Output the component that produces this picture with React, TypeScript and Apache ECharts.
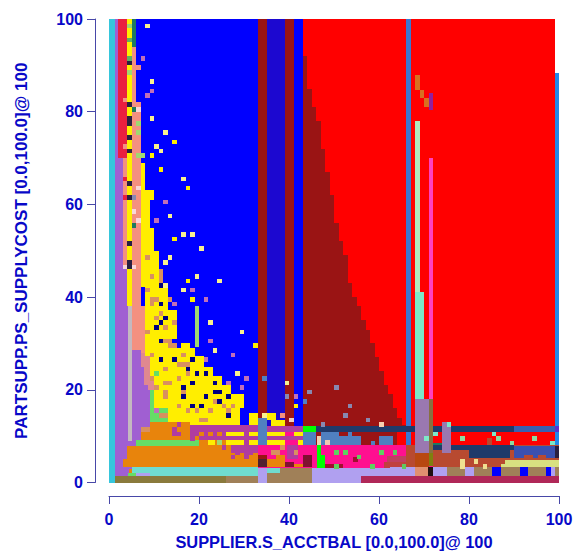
import React, { useEffect, useRef } from "react";
import * as echarts from "echarts";

const xTicks = [0, 20, 40, 60, 80, 100];
const yTicks = [0, 20, 40, 60, 80, 100];
const xTitle = "SUPPLIER.S_ACCTBAL [0.0,100.0]@ 100";
const yTitle = "PARTSUPP.PS_SUPPLYCOST [0.0,100.0]@ 100";

const cyan = "#36c6dc", purple = "#a05fd2", crimson = "#ea1f3f", yellow = "#ffee00", salmon = "#f49080";
const blue = "#0000ff", indigo = "#1c08d0", maroon = "#9a1414", red = "#ff0000", steel = "#3a78d0";
const gray = "#c4b8c0", dkgreen = "#1e7a60", tan = "#d89060", plum = "#c070b8", pale = "#f8f090", navy = "#1f3a6a";
const orange = "#e8840c", green = "#66dd66", aqua = "#70dcd0", olive = "#8a7a3c", brown = "#a08058";
const magenta = "#b03ca0", hotpink = "#ff1090", lime = "#00ff00", corn = "#5080c0", lav = "#b0a0f0";
const rose = "#b02858", brick = "#b84a30", khaki = "#d8e080", grape = "#9a78b0", moss = "#887040";
const dark = "#2a2040", dblue = "#000080", sky = "#2288e8", mint = "#b0e8c0", tq = "#7de8c8", pink = "#ff40c0";
const wine = "#a01030", grey = "#8888b0", lgreen = "#a0d870", band2 = "#3a60b0", ocean = "#3a50b0", oran2 = "#b84810";
const pinktan = "#e08890";

// [col0, col1, row0, row1, colour]
const baseBlocks: any[] = [
  [1.25, 43, 0, 12, orange], [43, 72, 0, 12, hotpink], [72, 100, 0, 8, brick],
  [6, 33, 12, 100, blue], [33, 35, 12, 100, maroon], [35, 39, 12, 100, indigo], [39, 41, 12, 100, maroon],
  [41, 43.2, 12, 100, blue], [43.2, 99, 8, 100, red],
  [43.2, 64, 8, 12, maroon], [99, 100, 8, 88.3, sky],
  [0, 1.25, 0, 100, cyan], [1.25, 2, 70, 100, purple], [2, 4, 70, 100, crimson],
  [1.25, 3, 0, 70, purple], [3, 4, 47, 70, salmon], [3, 4.2, 5, 47, purple],
  [4, 5, 47, 100, yellow], [4, 5.1, 38, 47, yellow], [4.2, 5.1, 7.6, 38, gray],
  [5, 6, 94, 100, dkgreen], [5, 6, 82, 94, salmon], [5, 7, 50, 82, salmon], [5.1, 7.2, 28.6, 50, salmon], [7.2, 8, 28, 38, salmon],
  [5.1, 7, 27, 28.6, purple], [5.1, 7.8, 22, 27, purple], [5.1, 8.7, 9, 22, purple], [4, 8.7, 7.6, 9, purple], [1.25, 5, 3, 7.6, purple],
  [7, 9, 25, 28, pinktan], [7.8, 10, 21, 25, pinktan], [8.7, 10, 20, 21, pinktan], [8.7, 9, 9, 20, purple],
];

// top row of the dark-red wedge, by column from 43 to 65
const wedgeCols = [43, 44, 45, 46, 47, 48, 49, 50, 51, 52, 53, 54, 55, 56, 57, 58, 59, 60, 61, 62, 63, 64, 65];
const wedgeTops = [92, 85, 81, 78, 72, 67, 62, 56, 52, 49, 43, 40, 38, 35, 33, 30, 27, 24, 21, 19, 16, 14, 12.5];

const stripBlocks: any[] = [
  [66, 67, 8, 100, steel],
  [68, 69, 84.7, 88, "#d87020"], [69, 70, 83, 84.7, "#d87020"], [70, 71, 81, 83, "#d87020"], [71, 72, 80.3, 84, "#9020a0"],
  [68, 69, 41, 78, mint], [68, 70, 18, 41, tq], [71, 72, 18, 70, pink],
];

const stackBlocks: any[] = [
  [7, 8, 63, 69, yellow], [7, 10, 61, 63, yellow], [7, 9, 55, 61, yellow], [7, 10, 50, 55, yellow],
  [7.2, 11, 46, 50, yellow], [7.2, 12, 42.2, 46, yellow], [11, 12, 43, 46, tan], [8, 13, 37.2, 42.2, yellow], [8, 15, 31, 37.2, yellow],
  [8, 13, 29, 31, yellow], [13, 15, 29, 30, tan], [16, 18, 29, 30, yellow], [8, 19, 27.2, 29, yellow], [9, 21, 25, 27.2, yellow],
  [9, 23, 23, 25, yellow], [10, 25, 21, 23, yellow], [10, 27, 19, 21, yellow], [10, 30, 16, 19, yellow], [13, 29, 12.4, 16, yellow],
  [9, 10, 13, 20, green], [10, 13, 13, 16, green],
  [19, 20, 29.3, 38, lgreen],
  [31, 33, 12.2, 15, yellow], [33, 35, 12.2, 14, corn], [34, 35, 14, 15, pale], [35, 37, 13.5, 15, yellow], [36, 39, 12.2, 13.5, yellow],
];

const lowBlocks: any[] = [
  [3, 33, 3.3, 5, orange], [4, 33, 5, 7.9, orange], [6, 20, 7.9, 9.2, green], [7.2, 19, 9.2, 11, orange], [9, 18, 11, 13, orange], [7.2, 9, 11, 12, tan],
  [18, 33, 10, 12.4, magenta], [20, 27, 8, 10, magenta], [26, 33, 10, 11, yellow], [26, 33, 8, 9.2, yellow], [20, 26, 7.9, 9.2, orange], [22, 23.5, 8, 9.2, yellow], [24, 25, 8, 9.2, lgreen],
  [5, 33, 2, 3.3, aqua], [1.25, 26, 0, 1.4, olive], [26, 33, 0, 1.4, brown], [1.25, 4.5, 1.4, 3, purple], [4.2, 6, 1.4, 2, green], [6, 9, 1.4, 2, lav], [9, 33, 1.4, 2, aqua],
  [33, 35, 0, 3.3, lav], [35, 45, 0, 2, brown], [35, 38, 2, 3.2, aqua], [38, 45, 2, 3.2, brown], [45, 56.1, 0, 3.2, lav], [56.1, 66, 1.4, 3.2, lav], [56.1, 100, 0, 1.4, rose],

  [27, 43, 11, 12.2, magenta], [27, 43, 9.2, 10, magenta], [27, 43, 6.3, 8, magenta],
  [27, 30, 10, 11, yellow], [30, 31, 10, 11, magenta], [31, 33, 10, 11, yellow], [35, 39, 10, 11, yellow], [41, 43, 10, 11, yellow], [39, 41, 10, 11, hotpink], [33, 35, 8, 12.2, corn],
  [27, 30, 8, 9.2, yellow], [30, 31, 8, 9.2, magenta], [31, 32.5, 8, 9.2, yellow], [35, 39, 8, 9.2, yellow], [39, 42, 8, 9.2, hotpink], [42, 43, 8, 9.2, yellow],
  [33, 45, 3.2, 8, hotpink], [39.5, 42, 5, 8, magenta],
  [27, 33, 3.3, 6.3, orange], [33, 35, 3.3, 5, "#502030"], [33, 35, 5, 6, maroon], [35, 39, 3.3, 5, orange], [39, 41, 3.3, 4.5, "#801030"], [41, 43, 3.3, 4, orange], [43, 45, 3.3, 6, "#801030"],

  [43, 46, 11, 12.2, lime], [46, 66, 11, 12.2, navy], [43, 46, 8, 11, corn], [46.2, 47, 8, 10, "#f0d0b0"], [47, 51, 8, 11, corn], [48, 49, 8, 9.2, "#f0c8b0"], [51, 56, 8, 10, corn], [53, 54, 10, 11, corn], [58.3, 59, 8, 9, corn], [60, 63, 8, 10, corn], [64, 66, 8, 11, red],
  [45, 66, 3.2, 8, hotpink], [46.2, 47.2, 6, 8, lime], [46.2, 48, 3.2, 6, lime], [48, 52, 3.2, 4, wine], [54.3, 55.4, 4.5, 5.5, wine], [61.7, 66, 4.5, 5.8, "#c04060"], [61, 66, 3.2, 4.5, "#c04040"],
  [66, 68, 3.2, 8, brick], [68, 71, 3.2, 6.3, oran2], [72, 88, 3.2, 8, brick], [72, 90, 7, 8, navy], [80, 89, 5.3, 7, navy], [90, 99, 5.3, 7.8, ocean], [92.3, 94.2, 5, 6, brick], [95.3, 97.2, 5, 6, brick], [99, 100, 5.3, 7.8, dark],
  [88, 100, 3.3, 4.9, khaki], [87.2, 88, 3.3, 4, khaki],
  [72, 76, 8, 8.6, dkgreen], [60, 66, 11, 12.2, navy],
  [62.4, 68, 1.4, 3.3, lav], [68, 70.9, 1.4, 3.3, "#e09070"], [70.9, 72, 1.4, 3.3, "#201010"], [72, 75.2, 1.4, 3.3, lav], [75.2, 79, 1.4, 3.3, brown], [79, 81.1, 1.4, 3.3, lav], [81.1, 85, 1.4, 3.3, brown],
  [85, 87, 1.4, 3.3, blue], [87, 91.3, 1.4, 3.3, brown], [91.3, 93.1, 1.4, 3.3, blue], [93.1, 97.2, 1.4, 3.3, brown], [97.2, 98.2, 1.4, 3.3, blue], [98.2, 99, 1.4, 3.3, lav], [99, 100, 1.4, 3.3, brown],

  [66, 68, 11, 12.2, navy], [72, 90, 11, 12.2, navy], [90, 99, 11, 12.2, band2], [99, 100, 11, 12.2, "#5a30d0"],
  [74, 76, 6.3, 13, grape], [68, 71, 6.3, 18, grape], [71, 72, 6.3, 18, moss], [71, 72, 3.5, 6.3, "#808010"],
  [84, 85, 8, 9.5, brick],
];

// single plotted cells: [col, row, colour]
const blueCells: any[] = [
  [8, 98, pale], [7, 91, plum], [9, 86, pale], [9, 84, plum], [8, 83, plum], [9, 78, pale], [12, 75, pale], [14, 73, yellow], [10, 72, pale], [11, 71, pale], [9, 70, yellow],
  [11, 67, yellow], [16, 65, pale], [17, 63, yellow], [12, 60, plum], [13, 57, pale], [10, 56, plum], [16, 53, pale], [18, 53, pale], [14, 52, yellow], [20, 50, pale],
  [13, 48, pale], [12, 47, pale], [19, 44, pale], [17, 43, yellow], [24, 43, pale], [12, 42, pale], [16, 41, pale], [18, 41, plum], [18, 39, yellow], [21, 39, plum], [14, 38, plum],
  [22, 34, pale], [29, 32, pale], [22, 30, plum], [32, 29, yellow], [23, 28, pale], [27, 27, plum], [21, 26, plum], [28, 23, pale], [30, 22, plum], [34, 22, corn], [26, 21, plum], [29, 20, plum],
  [50, 20, grey], [44, 19, grey], [53, 16, grey], [52, 14, grey], [57, 13, grey], [60, 12, "#f8d0b0"], [47, 12, grey], [39, 21, pale], [39, 18, grey], [41, 18, plum], [41, 16, yellow], [43, 17, corn], [40, 13, "#f0d0c0"], [38, 14, salmon],
  [75, 12, tq], [72, 10, tq], [70, 9, tq], [78, 9, "#90d8a0"], [85, 10, tq], [86, 9, "#90d8a0"], [89, 8, "#90d8a0"], [94, 9, "#90d8a0"], [98, 8, tq],
  [63, 6, "#60c860"], [65, 3, "#60c860"], [78, 4, "#f0e090"], [78, 3, "#f0e090"], [81, 4, "#f0e090"], [83, 3, "#f0e090"],
  [50, 3, "#60d060"], [52, 6, "#60d060"], [55, 5, "#60d060"], [60, 6, "#60d060"], [58, 3, "#60d060"], [50, 6, "#60d060"],
];

const stripCells: any[] = [
  [4, 98, lgreen], [4, 95, "#60b060"], [4, 91, "#60b060"], [4, 88, lgreen], [4, 90, dark], [4, 81, dark], [4, 78, dark], [4, 77, dark], [4, 74, dark], [4, 71, dark], [4, 64, dark], [4, 61, dark], [4, 51, dark],
  [5, 89, salmon], [6, 89, salmon], [5, 80, dkgreen], [6, 80, "#f8d8d8"], [6, 77, lgreen], [6, 75, lgreen], [6, 70, lgreen], [7, 70, lgreen], [6, 63, "#f8d8d8"], [6, 56, "#f8d8d8"], [5, 58, "#f8d8d8"], [5, 55, dkgreen], [5, 61, grey],
  [3, 82, salmon], [3, 72, salmon], [3, 65, crimson], [3, 61, crimson], [4, 47, dark], [4, 46, dark], [3, 46, "#f8d8d8"], [5, 46, "#f8d8d8"],
];

const yellowCells: any[] = [
  [8, 48, tan], [9, 44, tan], [11, 42, dblue], [8, 41, tan], [9, 39, tan], [10, 39, tan], [11, 38, dblue], [13, 39, tan], [9, 38, tan], [11, 36, tan], [10, 35, tan],
  [12, 35, dblue], [11, 34, dblue], [10, 33, dblue], [12, 33, tan], [14, 34, tan], [11, 30, dblue], [8, 32, tan], [12, 30, tan], [13, 30, tan], [9, 27, tan], [11, 26, dblue], [14, 26, dblue], [18, 26, dblue],
  [16, 27, tan], [15, 25, tan], [17, 25, tan], [12, 24, tan], [17, 24, dblue], [16, 25, tan], [19, 23, dblue], [21, 23, dblue], [17, 23, tan], [10, 23, green], [9, 22, tan], [15, 22, tan], [23, 21, dblue],
  [12, 21, tan], [13, 21, tan], [10, 20, tan], [18, 21, dblue], [23, 19, dblue], [24, 19, dblue], [16, 20, dblue], [16, 19, tan], [16, 18, dblue], [21, 18, dblue], [26, 18, dblue], [12, 19, tan], [24, 17, dblue], [23, 17, tan],
  [12, 18, tan], [18, 16, dblue], [20, 16, dblue], [15, 16, tan], [17, 15, tan], [19, 15, tan], [25, 16, tan], [27, 16, tan], [26, 15, tan], [26, 14, dblue], [22, 15, tan], [21, 13, tan], [20, 13, tan], [10, 15, plum], [11, 14, tan], [12, 14, tan],
];

const bandCells: any[] = [
  [15, 12, magenta], [14, 11, magenta], [15, 10, magenta], [14, 10, magenta], [18, 9, magenta], [24, 10, orange], [20, 10, orange], [22, 10, orange], [28, 6, magenta], [30, 6, magenta], [25, 7, magenta], [27, 7, magenta], [29, 7, magenta], [31, 6, magenta], [36, 6, tan], [37, 6, tan], [38, 7, tan], [41, 6, tan],
  [27, 5, magenta], [30, 5, magenta], [37, 5, orange], [38, 5, orange],
];

function App() {
  const ref = useRef<HTMLDivElement>(null);
  useEffect(() => {
    const chart = echarts.init(ref.current!, null, { renderer: "svg" });
    const wedge = wedgeCols.map((c, i) => [c === 43 ? 43.2 : c, c + 1, 12, wedgeTops[i], maroon]);
    const toBlocks = (cells: any[]) => cells.map(([c, r, k]) => [c, c + 1, r, r + 1, k]);
    const blocks: any[] = [
      ...baseBlocks, ...wedge, ...stripBlocks, ...stackBlocks, ...lowBlocks,
      ...toBlocks(blueCells), ...toBlocks(stripCells), ...toBlocks(yellowCells), ...toBlocks(bandCells),
    ];
    const axisColor = "#4848a8";
    const textColor = "#0808c8";
    chart.setOption({
      animation: false,
      grid: { left: 109, top: 19, width: 450, height: 463.5, outerBoundsMode: "none" },
      xAxis: {
        type: "value", min: 0, max: 100, interval: 20, offset: 13.5,
        position: "bottom",
        splitLine: { show: false },
        axisLine: { show: true, onZero: false, lineStyle: { color: axisColor, width: 1 } },
        axisTick: { show: true, length: 8, lineStyle: { color: axisColor, width: 1 } },
        axisLabel: { color: textColor, fontFamily: "Liberation Sans", fontSize: 16, fontWeight: "bold", margin: 15, formatter: (v: number) => (xTicks.includes(v) ? String(v) : "") },
        name: xTitle, nameLocation: "middle", nameGap: 38,
        nameTextStyle: { color: textColor, fontFamily: "Liberation Sans", fontSize: 16.4, fontWeight: "bold" },
      },
      yAxis: {
        type: "value", min: 0, max: 100, interval: 20, offset: 14,
        position: "left",
        splitLine: { show: false },
        axisLine: { show: true, onZero: false, lineStyle: { color: axisColor, width: 1 } },
        axisTick: { show: true, length: 8, lineStyle: { color: axisColor, width: 1 } },
        axisLabel: { color: textColor, fontFamily: "Liberation Sans", fontSize: 16, fontWeight: "bold", margin: 12, formatter: (v: number) => (yTicks.includes(v) ? String(v) : "") },
        name: yTitle, nameLocation: "middle", nameGap: 65, nameRotate: 90,
        nameTextStyle: { color: textColor, fontFamily: "Liberation Sans", fontSize: 17, fontWeight: "bold" },
      },
      series: [{
        type: "custom", silent: true, clip: false,
        data: blocks.map((b) => b.slice(0, 4)),
        encode: { x: [0, 1], y: [2, 3] },
        renderItem: (params: any, api: any) => {
          const a = api.coord([api.value(0), api.value(3)]);
          const b = api.coord([api.value(1), api.value(2)]);
          const x = Math.round(a[0]), y = Math.round(a[1]);
          return {
            type: "rect",
            shape: { x, y, width: Math.round(b[0]) - x, height: Math.round(b[1]) - y },
            style: { fill: blocks[params.dataIndex][4] },
          };
        },
      }],
    });
    return () => chart.dispose();
  }, []);
  return <div ref={ref} style={{ position: "absolute", left: 0, top: 0, width: 575, height: 551 }} />;
}

export default App;
